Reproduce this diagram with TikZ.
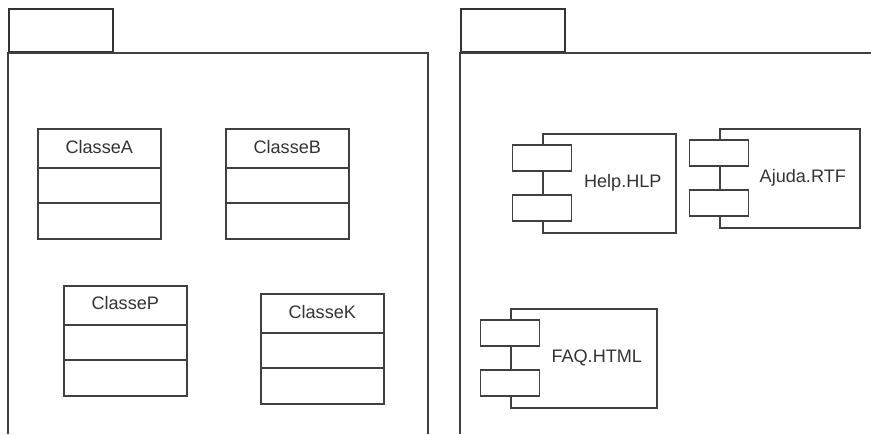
\documentclass[tikz,border=0pt]{standalone}
\usepackage{fontspec}
\setmainfont{Liberation Sans}

\begin{document}
\begin{tikzpicture}[x=0.02cm,y=-0.02cm,line width=0.9pt,draw=black!75,
                    every node/.style={font=\fontsize{10.3}{12}\selectfont,text=black!80,inner sep=0pt},
                    tab/.style={draw=black!80,line width=1.1pt,minimum width=2.08cm,minimum height=0.86cm,anchor=south west},
                    class box/.style={draw=black!75,minimum width=2.46cm,minimum height=2.2cm,anchor=north west},
                    comp box/.style={draw=black!75,minimum height=1.98cm,anchor=north west},
                    port/.style={draw=black!75,fill=white,minimum width=1.18cm,minimum height=0.52cm}]

  \useasboundingbox (0,0) rectangle (871,434);

  % packages
  \node[tab] (tabL) at (8,53) {};
  \node[tab] (tabR) at (460,53) {};
  \draw (8,434) -- (tabL.south west) -- (428,53) -- (428,434);
  \draw (460,434) -- (tabR.south west) -- (871,53);

  % classes
  \node[class box] (clsA) at (37,128) {};
  \node[class box] (clsB) at (225,128) {};
  \node[class box] (clsP) at (63,285) {};
  \node[class box] (clsK) at (260,293) {};

  \node (nameA) at ([yshift=-0.38cm]clsA.north) {ClasseA};
  \node (nameB) at ([yshift=-0.38cm]clsB.north) {ClasseB};
  \node (nameP) at ([yshift=-0.36cm]clsP.north) {ClasseP};
  \node (nameK) at ([yshift=-0.38cm]clsK.north) {ClasseK};

  \draw ([yshift=-0.8cm]clsA.north west) -- ([yshift=-0.8cm]clsA.north east)
        ([yshift=-1.5cm]clsA.north west) -- ([yshift=-1.5cm]clsA.north east);
  \draw ([yshift=-0.8cm]clsB.north west) -- ([yshift=-0.8cm]clsB.north east)
        ([yshift=-1.5cm]clsB.north west) -- ([yshift=-1.5cm]clsB.north east);
  \draw ([yshift=-0.8cm]clsP.north west) -- ([yshift=-0.8cm]clsP.north east)
        ([yshift=-1.5cm]clsP.north west) -- ([yshift=-1.5cm]clsP.north east);
  \draw ([yshift=-0.8cm]clsK.north west) -- ([yshift=-0.8cm]clsK.north east)
        ([yshift=-1.5cm]clsK.north west) -- ([yshift=-1.5cm]clsK.north east);

  % components
  \node[comp box,minimum width=2.66cm,label={[xshift=0.27cm]center:Help.HLP}] (help) at (542,133) {};
  \node[comp box,minimum width=2.8cm,label={[xshift=0.26cm]center:Ajuda.RTF}] (ajuda) at (719,128) {};
  \node[comp box,minimum width=2.92cm,label={[xshift=0.26cm]center:FAQ.HTML}] (faq) at (510,308) {};

  \node[port] (helpP1) at ([yshift=-0.5cm]help.north west) {};
  \node[port] (helpP2) at ([yshift=-1.5cm]help.north west) {};
  \node[port] (ajudaP1) at ([yshift=-0.5cm]ajuda.north west) {};
  \node[port] (ajudaP2) at ([yshift=-1.5cm]ajuda.north west) {};
  \node[port] (faqP1) at ([yshift=-0.5cm]faq.north west) {};
  \node[port] (faqP2) at ([yshift=-1.5cm]faq.north west) {};
\end{tikzpicture}
\end{document}
